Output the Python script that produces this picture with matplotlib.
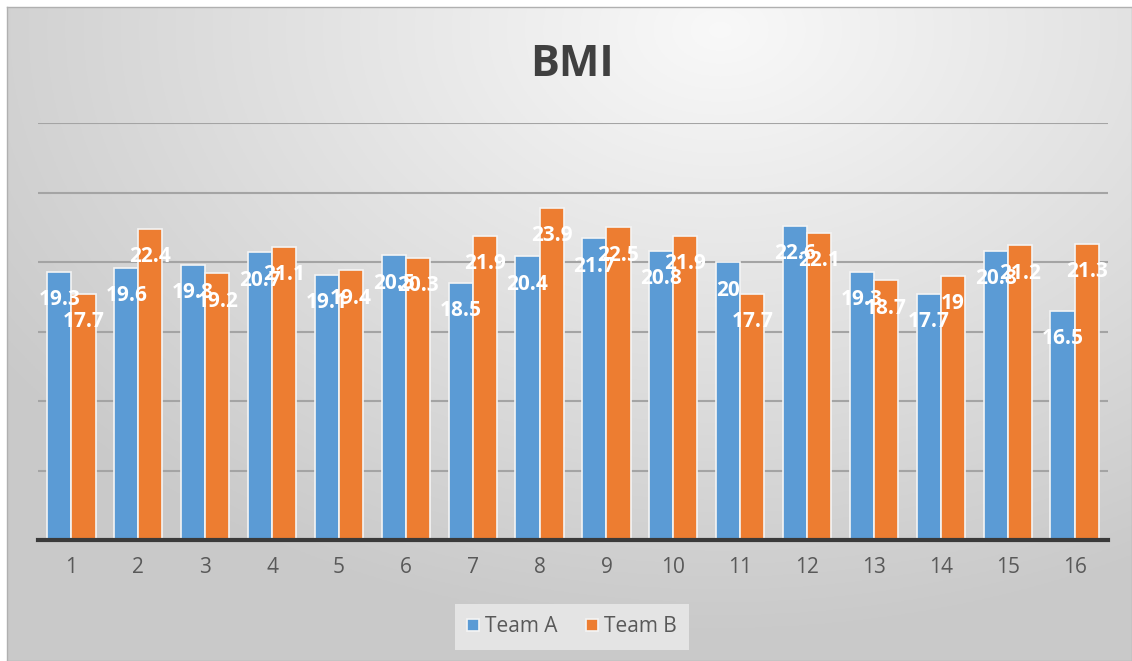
import numpy as np
import matplotlib.pyplot as plt

plt.rcParams['font.family'] = ['Open Sans', 'DejaVu Sans']

# data
categories = [str(i) for i in range(1, 17)]
team_a = [19.3, 19.6, 19.8, 20.7, 19.1, 20.5, 18.5, 20.4,
          21.7, 20.8, 20, 22.6, 19.3, 17.7, 20.8, 16.5]
team_b = [17.7, 22.4, 19.2, 21.1, 19.4, 20.3, 21.9, 23.9,
          22.5, 21.9, 17.7, 22.1, 18.7, 19, 21.2, 21.3]
series_names = ['Team A', 'Team B']
colors = ['#5B9BD5', '#ED7D31']

W, H = 1132, 661
fig = plt.figure(figsize=(W / 100, H / 100), dpi=100)
fig.patch.set_facecolor('white')

# gradient background of the chart area
bg = fig.add_axes([7 / W, 0, 1 - 7 / W, 1 - 7 / H])
yy, xx = np.mgrid[0:300, 0:600]
cx, cy = 380, 10
r = np.sqrt(((xx - cx) / 600) ** 2 + ((yy - cy) / 360) ** 2)
shade = np.clip(0.975 - 0.24 * r, 0.79, 0.975)
bg.imshow(np.dstack([shade] * 3), aspect='auto', extent=[0, 1, 0, 1], origin='upper')
bg.set_xlim(0, 1)
bg.set_ylim(0, 1)
for s in bg.spines.values():
    s.set_color('#b0b0b0')
    s.set_linewidth(1)
bg.set_xticks([])
bg.set_yticks([])

# main plot
ax = fig.add_axes([38 / W, 121 / H, 1070 / W, (540 - 123) / H])
ax.patch.set_alpha(0)
x = np.arange(len(categories))
bw = 0.36
offsets = [-0.18, 0.18]

for vals, off, col, name in zip([team_a, team_b], offsets, colors, series_names):
    bars = ax.bar(x + off, vals, width=bw, color=col, edgecolor='#f4f4f4',
                  linewidth=1.2, label=name, zorder=3)
    for b, v in zip(bars, vals):
        ax.annotate(f'{v:g}', xy=(b.get_x() + b.get_width() / 2, v),
                    xytext=(0, -28), textcoords='offset pixels',
                    ha='center', va='center', color='white',
                    fontsize=15, fontweight='bold', zorder=5)

ax.set_xlim(-0.5, len(categories) - 0.5)
ax.set_ylim(0, 30)
ax.set_yticks(np.arange(0, 31, 5))
ax.yaxis.grid(True, color='#a4a4a4', linewidth=1.5, zorder=0)
ax.tick_params(axis='y', left=False, labelleft=False)
ax.set_xticks(x)
ax.set_xticklabels(categories, fontsize=15, color='#595959')
ax.tick_params(axis='x', length=0, pad=12)
for side in ['top', 'right', 'left']:
    ax.spines[side].set_visible(False)
ax.spines['bottom'].set_color('#3a3a3a')
ax.spines['bottom'].set_linewidth(3)
ax.spines['bottom'].set_zorder(4)

fig.text(572 / W, 1 - 64 / H, 'BMI', ha='center', va='center',
         fontsize=31, fontweight='bold', color='#404040')

leg = fig.legend(loc='center', bbox_to_anchor=(572 / W, 1 - 627 / H),
                 ncol=2, frameon=True, fontsize=15, handlelength=0.55,
                 handleheight=0.55, handletextpad=0.3, columnspacing=1.4,
                 borderpad=0.6, borderaxespad=0, fancybox=False)
leg.get_frame().set_facecolor('#e4e4e4')
leg.get_frame().set_edgecolor('none')
leg.get_frame().set_alpha(1)
for t in leg.get_texts():
    t.set_color('#595959')

fig.savefig('out.png', dpi=100)
